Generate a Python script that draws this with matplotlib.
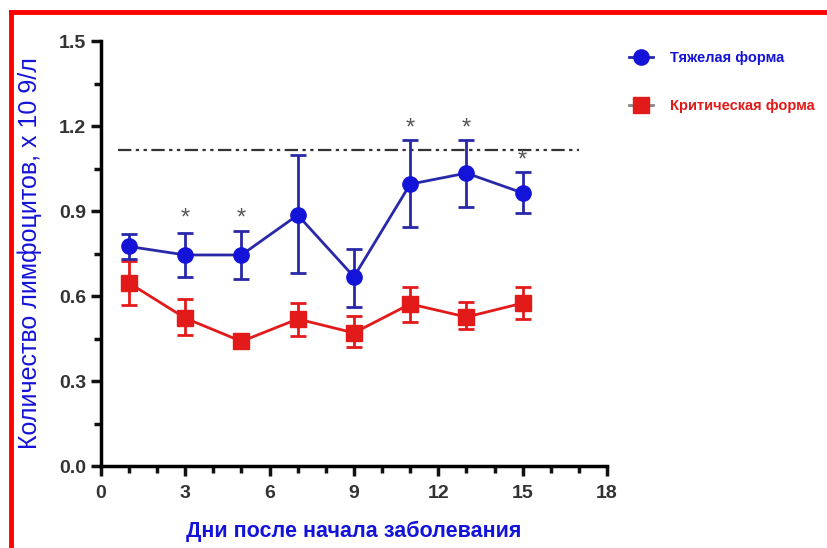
import matplotlib.pyplot as plt
from matplotlib.lines import Line2D
from matplotlib.ticker import MultipleLocator

plt.rcParams['font.family'] = ['Liberation Sans', 'DejaVu Sans']

days = [1, 3, 5, 7, 9, 11, 13, 15]

# тяжелая форма: среднее, верхняя и нижняя граница
severe = [0.775, 0.745, 0.745, 0.886, 0.668, 0.995, 1.034, 0.964]
severe_hi = [0.82, 0.822, 0.83, 1.098, 0.766, 1.15, 1.15, 1.038]
severe_lo = [0.73, 0.667, 0.66, 0.68, 0.561, 0.844, 0.914, 0.893]

# критическая форма
critical = [0.646, 0.522, 0.44, 0.519, 0.47, 0.572, 0.526, 0.575]
critical_hi = [0.725, 0.59, 0.46, 0.575, 0.53, 0.632, 0.58, 0.632]
critical_lo = [0.568, 0.462, 0.425, 0.459, 0.42, 0.508, 0.484, 0.519]

norm_level = 1.115
star_days = [3, 5, 11, 13, 15]
star_y = [0.875, 0.875, 1.19, 1.19, 1.08]

blue = '#1414d8'
blue_line = '#2828a8'
red = '#e31a1a'

fig = plt.figure(figsize=(8.27, 5.48), dpi=100)
ax = fig.add_axes([0.122, 0.1496, 0.612, 0.7754])

# норма
ax.plot([0.6, 17.0], [norm_level, norm_level], color='#333333', lw=1.6,
        linestyle=(0, (6, 2, 1.5, 2, 1.5, 2)))

s_err = [[m - l for m, l in zip(severe, severe_lo)], [h - m for m, h in zip(severe, severe_hi)]]
c_err = [[m - l for m, l in zip(critical, critical_lo)], [h - m for m, h in zip(critical, critical_hi)]]

ax.errorbar(days, critical, yerr=c_err, color=red, ecolor=red, lw=2, elinewidth=2,
            capsize=6, capthick=2, marker='s', markersize=11, zorder=3)
ax.errorbar(days, severe, yerr=s_err, color=blue_line, ecolor=blue_line, lw=2, elinewidth=2,
            capsize=6, capthick=2, marker='o', markersize=11, markerfacecolor=blue,
            markeredgecolor=blue, zorder=4)

for d, y in zip(star_days, star_y):
    ax.text(d, y, '*', ha='center', va='center', fontsize=17, color='#555555')

ax.set_xlim(0, 18)
ax.set_ylim(0, 1.5)
ax.xaxis.set_major_locator(MultipleLocator(3))
ax.xaxis.set_minor_locator(MultipleLocator(1))
ax.yaxis.set_major_locator(MultipleLocator(0.3))
ax.yaxis.set_minor_locator(MultipleLocator(0.15))
ax.set_xticks([0, 3, 6, 9, 12, 15, 18])
ax.set_xticklabels(['0', '3', '6', '9', '12', '15', '18'])
ax.set_yticklabels(['%.1f' % v for v in ax.get_yticks()])
for s in ['top', 'right']:
    ax.spines[s].set_visible(False)
for s in ['left', 'bottom']:
    ax.spines[s].set_linewidth(2.5)
ax.tick_params(which='major', length=7, width=2.5, labelsize=14, colors='#111111',
               labelcolor='#333333')
ax.tick_params(axis='x', which='major', pad=7)
ax.tick_params(which='minor', length=5, width=2.5, colors='#111111')
for lbl in ax.get_xticklabels() + ax.get_yticklabels():
    lbl.set_fontweight('bold')

ax.set_xlabel('Дни после начала заболевания', fontsize=15.5, fontweight='bold', color=blue,
              labelpad=13)
ax.set_ylabel('Количество лимфоцитов, x 10 9/л', fontsize=18, color=blue, labelpad=12)

handles = [
    Line2D([], [], color=blue_line, lw=2, marker='o', markersize=11, markerfacecolor=blue,
           markeredgecolor=blue),
    Line2D([], [], color='#888888', lw=2, marker='s', markersize=11, markerfacecolor=red,
           markeredgecolor=red),
]
leg = fig.legend(handles, ['Тяжелая форма', 'Критическая форма'], loc='upper left',
                 bbox_to_anchor=(0.745, 0.93), frameon=False, handlelength=1.6,
                 handletextpad=1.2, labelspacing=2.3, prop={'weight': 'bold', 'size': 10.5})
leg.get_texts()[0].set_color(blue)
leg.get_texts()[1].set_color(red)

# красная рамка
fig.add_artist(Line2D([0.013, 0.013], [0, 0.978], color='red', lw=3.5, transform=fig.transFigure))
fig.add_artist(Line2D([0.013, 1], [0.978, 0.978], color='red', lw=3.5, transform=fig.transFigure))

fig.savefig('out.png', dpi=100)
